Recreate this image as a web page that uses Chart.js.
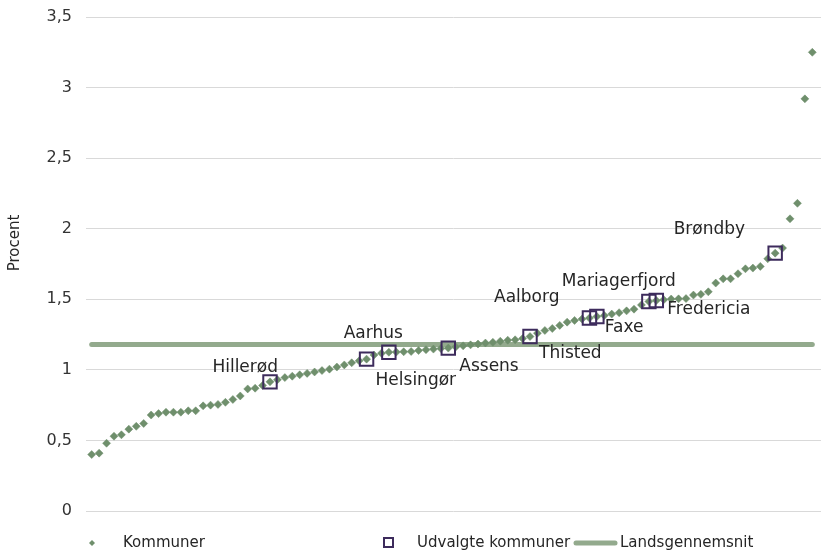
<!DOCTYPE html>
<html>
<head>
<meta charset="utf-8">
<script src="https://cdn.jsdelivr.net/npm/chart.js@4/dist/chart.umd.min.js"></script>
<style>
html, body { margin:0; padding:0; background:#fff; }
#wrap { width:821px; height:558px; }
</style>
</head>
<body>
<div id="wrap"><canvas id="c" width="821" height="558"></canvas></div>
<script>
// alle kommuner, sorteret stigende (procent)
const kommuner = [
	0.40, 0.41, 0.48, 0.53, 0.54, 0.58, 0.60, 0.62, 0.68, 0.69,
	0.70, 0.70, 0.70, 0.71, 0.71, 0.745, 0.75, 0.755, 0.77, 0.79,
	0.815, 0.865, 0.87, 0.89, 0.915, 0.93, 0.945, 0.955, 0.965, 0.975,
	0.985, 0.995, 1.005, 1.02, 1.035, 1.05, 1.064, 1.076, 1.105, 1.118,
	1.125, 1.126, 1.128, 1.13, 1.137, 1.143, 1.147, 1.151, 1.154, 1.162,
	1.17, 1.177, 1.183, 1.19, 1.195, 1.203, 1.21, 1.213, 1.222, 1.236,
	1.26, 1.279, 1.293, 1.315, 1.338, 1.35, 1.36, 1.367, 1.378, 1.385,
	1.395, 1.405, 1.418, 1.43, 1.46, 1.484, 1.491, 1.497, 1.502, 1.503,
	1.505, 1.53, 1.535, 1.553, 1.615, 1.645, 1.645, 1.681, 1.716, 1.721,
	1.733, 1.787, 1.827, 1.863, 2.07, 2.18, 2.92, 3.25
]

// udvalgte kommuner: navn og plads i rækken (1 = lavest)
const udvalgteNavne = ['Hillerød', 'Helsingør', 'Aarhus', 'Assens', 'Thisted', 'Aalborg', 'Faxe', 'Mariagerfjord', 'Fredericia', 'Brøndby']
const udvalgteNr = [25, 38, 41, 49, 60, 68, 69, 76, 77, 93]

const landsgennemsnit = 1.18

const yTicks = [0, 0.5, 1, 1.5, 2, 2.5, 3, 3.5]
const legendNavne = ['Kommuner', 'Udvalgte kommuner', 'Landsgennemsnit']

const FONT = '"DejaVu Sans", sans-serif'
const green = '#6f8f6c'
const lineGreen = '#93aa8d'
const purple = '#3d2b5c'

// label placering rundt om punktet (align, dx, dy)
const labelPos = {
	'Hillerød': ['right', 8, -14],
	'Aarhus': ['right', 14, -19],
	'Helsingør': ['left', 9, 21],
	'Assens': ['left', 11, 18],
	'Thisted': ['left', 9, 17],
	'Aalborg': ['right', -30, -20],
	'Faxe': ['left', 8, 11],
	'Mariagerfjord': ['right', 27, -20],
	'Fredericia': ['left', 11, 9],
	'Brøndby': ['right', -30, -24],
}

const labelsPlugin = {
	id: 'labels',
	afterDatasetsDraw(chart) {
		const ctx = chart.ctx
		const meta = chart.getDatasetMeta(1)
		ctx.save()
		ctx.font = '17px ' + FONT
		ctx.fillStyle = '#262626'
		ctx.textBaseline = 'middle'
		udvalgteNavne.forEach((n, i) => {
			const p = meta.data[i]
			const [al, dx, dy] = labelPos[n]
			ctx.textAlign = al
			ctx.fillText(n, p.x + dx, p.y + dy)
		})
		ctx.restore()
	}
}

// egen legend + y-akse titel
const extrasPlugin = {
	id: 'extras',
	afterDraw(chart) {
		const ctx = chart.ctx
		ctx.save()
		ctx.fillStyle = '#262626'
		ctx.font = '15px ' + FONT
		ctx.textBaseline = 'middle'

		// titel
		ctx.save()
		ctx.translate(15, 243)
		ctx.rotate(-Math.PI / 2)
		ctx.textAlign = 'center'
		ctx.fillText('Procent', 0, 0)
		ctx.restore()

		const ly = 543
		ctx.textAlign = 'left'

		// diamant
		ctx.fillStyle = green
		ctx.beginPath()
		ctx.moveTo(92, ly - 3); ctx.lineTo(95, ly); ctx.lineTo(92, ly + 3); ctx.lineTo(89, ly)
		ctx.closePath(); ctx.fill()
		ctx.fillStyle = '#262626'
		ctx.fillText(legendNavne[0], 123, ly)

		// firkant
		ctx.strokeStyle = purple
		ctx.lineWidth = 2
		ctx.strokeRect(384, ly - 5, 9, 9)
		ctx.fillText(legendNavne[1], 417, ly)

		// linje
		ctx.strokeStyle = lineGreen
		ctx.lineWidth = 5
		ctx.lineCap = 'round'
		ctx.beginPath(); ctx.moveTo(576, ly); ctx.lineTo(615, ly); ctx.stroke()
		ctx.fillText(legendNavne[2], 620, ly)

		ctx.restore()
	}
}

new Chart(document.getElementById('c'), {
	type: 'scatter',
	data: {
		datasets: [
			{
				label: legendNavne[0],
				data: kommuner.map((v, i) => ({x: i + 1, y: v})),
				pointStyle: 'rectRot',
				pointRadius: 4,
				pointHoverRadius: 4,
				backgroundColor: green,
				borderColor: green,
				borderWidth: 0.5,
				order: 2,
			},
			{
				label: legendNavne[1],
				data: udvalgteNr.map(n => ({x: n, y: kommuner[n - 1]})),
				pointStyle: 'rect',
				pointRadius: 9.5,
				pointHoverRadius: 9.5,
				backgroundColor: 'rgba(0,0,0,0)',
				borderColor: purple,
				borderWidth: 2,
				order: 1,
			},
			{
				label: legendNavne[2],
				data: kommuner.map((_, i) => ({x: i + 1, y: landsgennemsnit})),
				showLine: true,
				borderColor: lineGreen,
				borderWidth: 5,
				borderCapStyle: 'round',
				pointRadius: 0,
				pointHoverRadius: 0,
				order: 3,
			},
		]
	},
	options: {
		responsive: false,
		animation: false,
		events: [],
		layout: { autoPadding: false, padding: { top: 17, bottom: 47, left: 0, right: 0 } },
		plugins: {
			legend: { display: false },
			tooltip: { enabled: false },
		},
		scales: {
			x: {
				type: 'linear',
				min: 0.233,
				max: 99.17,
				display: false,
			},
			y: {
				min: 0,
				max: 3.5,
				afterBuildTicks: s => { s.ticks = yTicks.map(v => ({value: v})) },
				afterFit: s => { s.width = 86; s.paddingTop = 0; s.paddingBottom = 0 },
				ticks: {
					callback: v => String(v).replace('.', ','),
					color: '#333',
					font: { family: FONT, size: 16 },
					padding: 14,
				},
				grid: { color: '#d9d9d9', lineWidth: 1, drawTicks: false },
				border: { display: false },
			}
		}
	},
	plugins: [labelsPlugin, extrasPlugin]
})
</script>
</body>
</html>
